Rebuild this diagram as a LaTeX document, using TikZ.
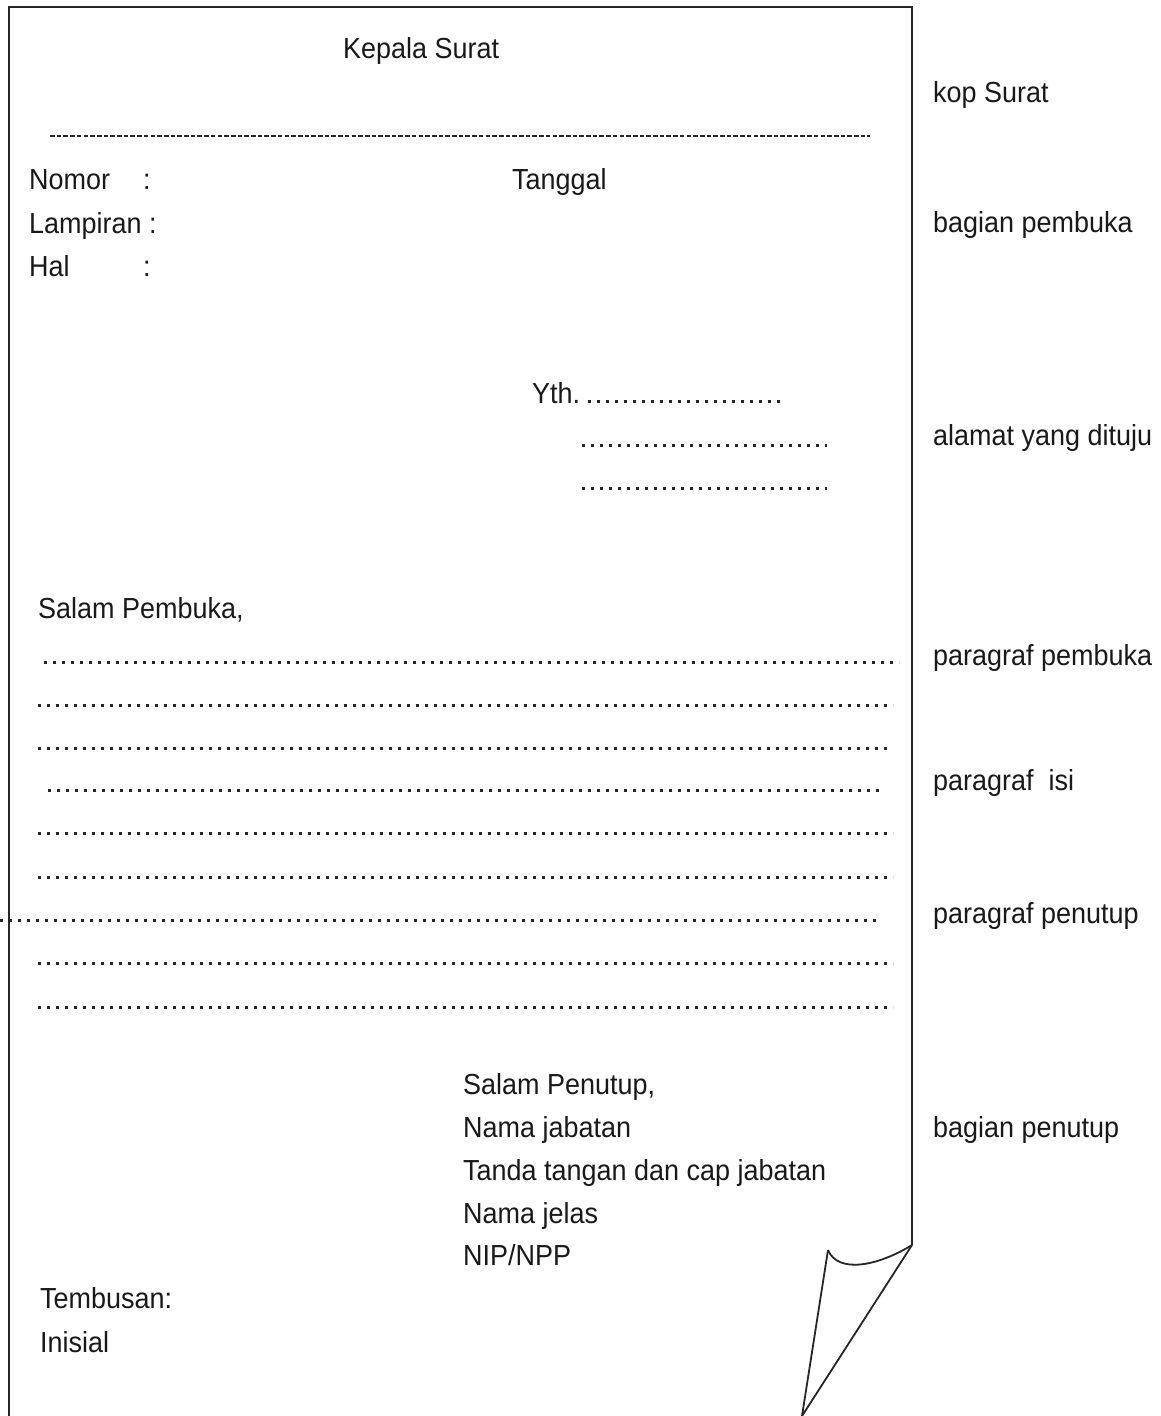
\documentclass[tikz,border=0pt]{standalone}
\usepackage{fontspec}
\setmainfont{Liberation Sans}[FakeStretch=0.93]
\begin{document}
\begin{tikzpicture}[x=1pt,y=-1pt,
  txt/.style={anchor=base west,inner sep=0pt,text=black!90,font=\fontsize{29}{34}\selectfont},
  frame/.style={line width=1.8pt,black!85,line join=miter},
  dotrow/.style={line width=3pt,black!85,dash pattern=on 3pt off 6pt},
  dashrow/.style={line width=2pt,black!85,dash pattern=on 4.6pt off 2.1pt}]
\useasboundingbox[fill=white] (0,0) rectangle (1160,1416);
% paper
\draw[frame] (9,1416) -- (9,7) -- (912,7) -- (912,1245);
\coordinate (fr) at (912,1245);
\coordinate (fl) at (828,1250);
\coordinate (ft) at (802,1416);
\draw[frame] (fr) -- (ft) -- (fl);
\draw[frame] (fl) .. controls (838,1274) and (878,1266) .. (fr);
% header
\node[txt] (kepala) at (343,58) {Kepala Surat};
\draw[dashrow] (50,136) -- (870,136);
\node[txt] (nomor) at (29,189) {Nomor};
\node[txt] (c1) at (143,189) {:};
\node[txt] (lamp) at (29,233) {Lampiran :};
\node[txt] (hal) at (29,276) {Hal};
\node[txt] (c3) at (143,276) {:};
\node[txt] (tgl) at (512,189) {Tanggal};
% address
\node[txt] (yth) at (532,403) {Yth.};
\draw[dotrow] (588,401) -- (782,401);
\draw[dotrow] (582,445) -- (827,445);
\draw[dotrow] (582,488) -- (827,488);
% body
\node[txt] (salam) at (38,618) {Salam Pembuka,};
\draw[dotrow] (44,662) -- (899,662);
\draw[dotrow] (38,705) -- (893,705);
\draw[dotrow] (38,748) -- (890,748);
\draw[dotrow] (48,790) -- (881,790);
\draw[dotrow] (38,833) -- (893,833);
\draw[dotrow] (38,877) -- (893,877);
\draw[dotrow] (0,920) -- (879,920);
\draw[dotrow] (38,963) -- (893,963);
\draw[dotrow] (38,1007) -- (893,1007);
% closing
\node[txt] (sp) at (463,1094) {Salam Penutup,};
\node[txt] (nj) at (463,1137) {Nama jabatan};
\node[txt] (tt) at (463,1180) {Tanda tangan dan cap jabatan};
\node[txt] (nje) at (463,1223) {Nama jelas};
\node[txt] (nip) at (463,1265) {NIP/NPP};
\node[txt] (temb) at (40,1308) {Tembusan:};
\node[txt] (inis) at (40,1352) {Inisial};
% side labels
\node[txt] (l1) at (933,102) {kop Surat};
\node[txt] (l2) at (933,232) {bagian pembuka};
\node[txt] (l3) at (933,445) {alamat yang dituju};
\node[txt] (l4) at (933,665) {paragraf pembuka};
\node[txt] (l5) at (933,790) {paragraf\ \ isi};
\node[txt] (l6) at (933,923) {paragraf penutup};
\node[txt] (l7) at (933,1137) {bagian penutup};
\end{tikzpicture}
\end{document}
